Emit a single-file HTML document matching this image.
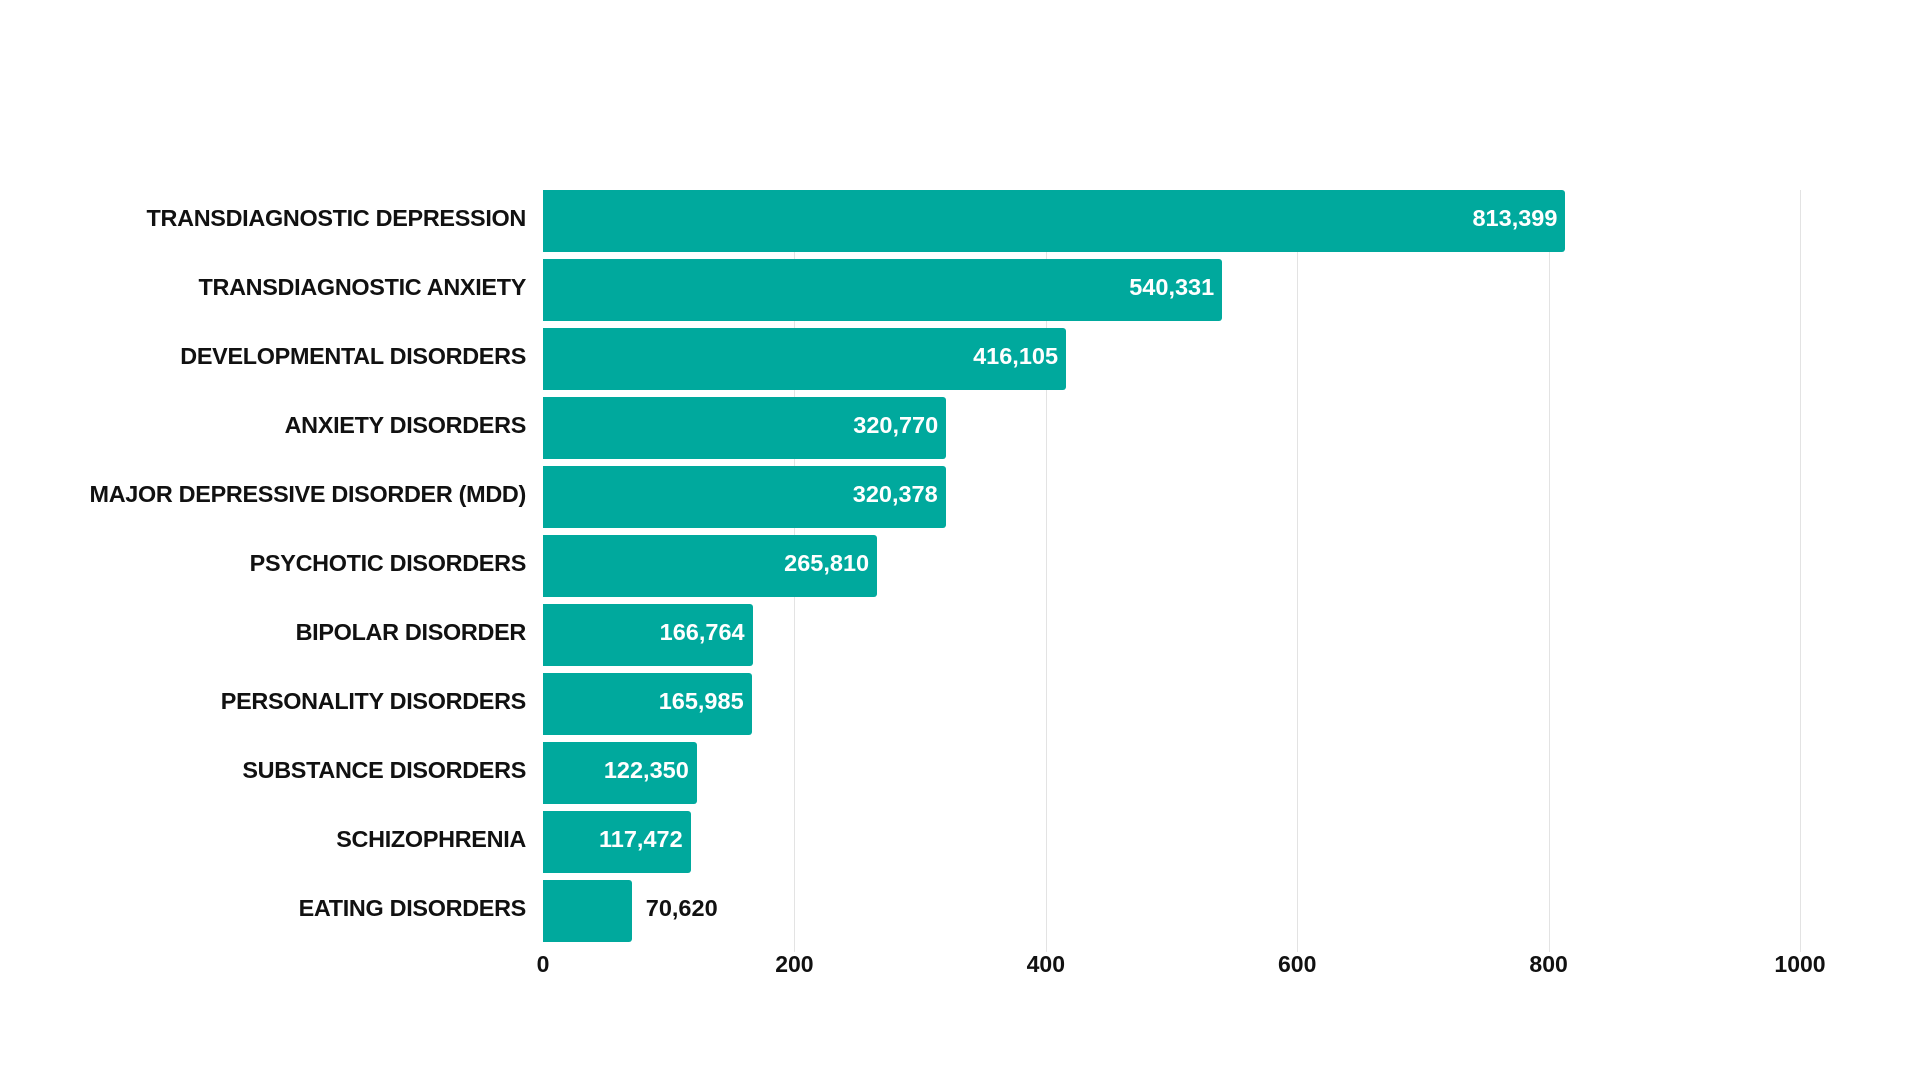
<!DOCTYPE html>
<html><head><style>
body{margin:0;width:1920px;height:1080px;background:#fff;font-family:"Liberation Sans",sans-serif;overflow:hidden}
.g{position:absolute;top:190px;height:762px;width:1px;background:#e3e3e3}
.b{position:absolute;left:543px;height:62px;background:#00a99d;border-radius:0 3px 3px 0}
.v{position:absolute;color:#fff;font-weight:bold;font-size:23.5px;height:62px;line-height:56px;text-align:right}
.l{position:absolute;right:1394px;font-weight:bold;font-size:23.4px;height:62px;line-height:56px;color:#111;white-space:nowrap;letter-spacing:-0.3px}
.t{position:absolute;top:951px;font-weight:bold;font-size:23px;color:#111;width:100px;text-align:center}
</style></head><body>
<div class="g" style="left:794px"></div>
<div class="g" style="left:1046px"></div>
<div class="g" style="left:1297px"></div>
<div class="g" style="left:1549px"></div>
<div class="g" style="left:1800px"></div>
<div id="c"></div>
<script>
var d=[["TRANSDIAGNOSTIC DEPRESSION",813.399,"813,399"],["TRANSDIAGNOSTIC ANXIETY",540.331,"540,331"],["DEVELOPMENTAL DISORDERS",416.105,"416,105"],["ANXIETY DISORDERS",320.770,"320,770"],["MAJOR DEPRESSIVE DISORDER (MDD)",320.378,"320,378"],["PSYCHOTIC DISORDERS",265.810,"265,810"],["BIPOLAR DISORDER",166.764,"166,764"],["PERSONALITY DISORDERS",165.985,"165,985"],["SUBSTANCE DISORDERS",122.350,"122,350"],["SCHIZOPHRENIA",117.472,"117,472"],["EATING DISORDERS",70.620,"70,620"]];
var h="";
d.forEach(function(r,i){var y=190+i*69.0;var w=r[1]*1.257;
h+='<div class="l" style="top:'+y+'px">'+r[0]+'</div>';
h+='<div class="b" style="top:'+y+'px;width:'+w+'px"></div>';
if(i<10)h+='<div class="v" style="top:'+y+'px;left:543px;width:'+(w-8)+'px">'+r[2]+'</div>';
else h+='<div class="v" style="top:'+y+'px;left:'+(543+w+14)+'px;color:#111;text-align:left">'+r[2]+'</div>';});
[0,200,400,600,800,1000].forEach(function(t,i){h+='<div class="t" style="left:'+(543+i*251.4-50)+'px">'+t+'</div>';});
document.getElementById("c").innerHTML=h;
</script>
</body></html>
